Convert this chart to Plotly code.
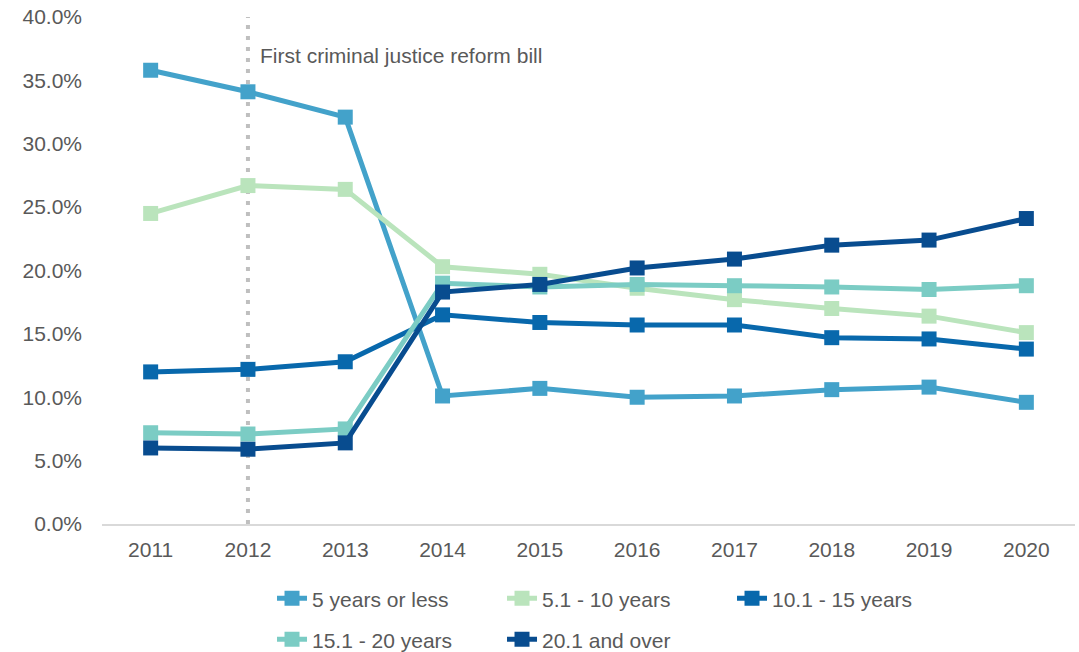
import plotly.graph_objects as go

years = ["2011", "2012", "2013", "2014", "2015", "2016", "2017", "2018", "2019", "2020"]

up_to_5 = [35.8, 34.1, 32.1, 10.1, 10.7, 10.0, 10.1, 10.6, 10.8, 9.6]
from_5_to_10 = [24.5, 26.7, 26.4, 20.3, 19.7, 18.6, 17.7, 17.0, 16.4, 15.1]
from_10_to_15 = [12.0, 12.2, 12.8, 16.5, 15.9, 15.7, 15.7, 14.7, 14.6, 13.8]
from_15_to_20 = [7.2, 7.1, 7.5, 19.0, 18.7, 18.9, 18.8, 18.7, 18.5, 18.8]
over_20 = [6.0, 5.9, 6.4, 18.3, 18.9, 20.2, 20.9, 22.0, 22.4, 24.1]

series = [
    ("5 years or less", up_to_5, "#43A2CA", "legend"),
    ("5.1 - 10 years", from_5_to_10, "#BAE4BC", "legend"),
    ("10.1 - 15 years", from_10_to_15, "#0868AC", "legend"),
    ("15.1 - 20 years", from_15_to_20, "#7BCCC4", "legend2"),
    ("20.1 and over", over_20, "#084C8F", "legend2"),
]

reform_year = "2012"
reform_label = "First criminal justice reform bill"

FONT = "Liberation Sans, Arial, sans-serif"
GREY_TEXT = "#595959"
FS = 21

xpos = list(range(len(years)))
reform_x = years.index(reform_year)

fig = go.Figure()
for name, vals, color, leg in series:
    fig.add_trace(go.Scatter(
        x=xpos, y=[v / 100 for v in vals], name=name, mode="lines+markers",
        line=dict(color=color, width=5),
        marker=dict(symbol="square", size=15, color=color),
        legend=leg,
    ))

# dotted marker line for the reform year
fig.add_shape(type="line", xref="x", yref="y", x0=reform_x, x1=reform_x,
              y0=0, y1=0.4, line=dict(color="#BFBFBF", width=4, dash="4px,7px"), layer="below")
fig.add_annotation(x=reform_x, y=0.370, xref="x", yref="y", text=reform_label,
                   showarrow=False, xanchor="left", xshift=10,
                   font=dict(family=FONT, size=FS, color=GREY_TEXT))

legend_common = dict(orientation="h", entrywidth=185, entrywidthmode="pixels",
                     font=dict(family=FONT, size=FS, color=GREY_TEXT),
                     bgcolor="rgba(0,0,0,0)", xanchor="left", yanchor="middle",
                     xref="container", yref="container",
                     itemclick=False, tracegroupgap=0)

fig.update_layout(
    width=1079, height=652,
    margin=dict(l=102, r=4, t=17, b=128, autoexpand=False),
    paper_bgcolor="white", plot_bgcolor="white",
    font=dict(family=FONT, size=FS, color=GREY_TEXT),
    xaxis=dict(range=[-0.5, len(years) - 0.5], tickvals=xpos, ticktext=years,
               showgrid=False, zeroline=False, showline=True, linecolor="#D9D9D9",
               linewidth=1.5, ticks="", ticklabelstandoff=6,
               tickfont=dict(family=FONT, size=FS, color=GREY_TEXT)),
    yaxis=dict(range=[0, 0.4], dtick=0.05, tickformat=".1%", showgrid=False,
               zeroline=False, showline=False, ticks="", ticklabelstandoff=19,
               tickfont=dict(family=FONT, size=FS, color=GREY_TEXT)),
    legend=dict(x=0.2521, y=0.0818, **legend_common),
    legend2=dict(x=0.2521, y=0.0189, **legend_common),
)

fig.write_html("out.html")
